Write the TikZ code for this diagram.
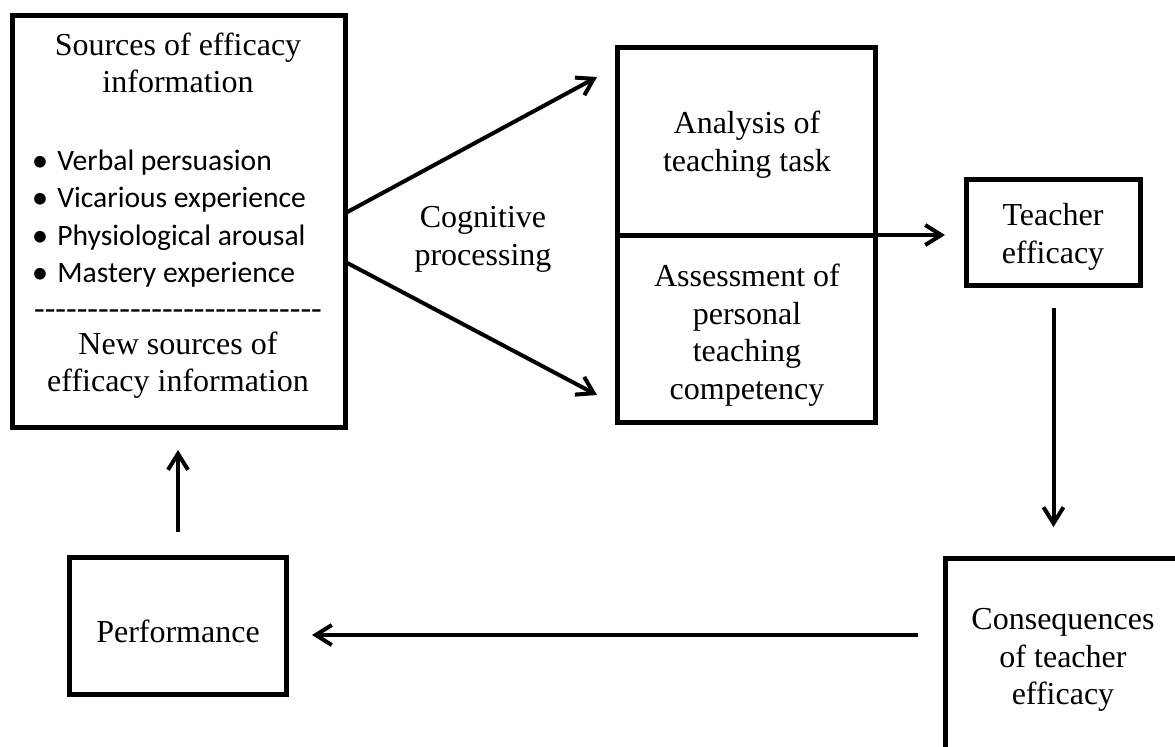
\documentclass[tikz,border=0pt]{standalone}
\usepackage{fontspec}
\setmainfont{Liberation Serif}
\newfontfamily\calib{Carlito}
\usetikzlibrary{arrows.meta}
\newcommand\dsh{-\kern0pt}
\newcommand\bul{\makebox[11.5pt][l]{\hspace{-1.3pt}\fontsize{16.5}{16.5}\selectfont\raisebox{-0.3pt}{•}}}
\tikzset{
  box/.style={draw, line width=2.5pt, inner sep=0pt, outer sep=0pt},
  lbl/.style={align=center, font=\fontsize{16}{18.75}\selectfont, inner sep=0pt},
  blt/.style={anchor=west, font=\calib\fontsize{14.8}{18.5}\selectfont, inner sep=0pt},
  arr/.style={line width=2pt, -{Straight Barb[length=8pt,width=10pt]}},
}
\begin{document}
\begin{tikzpicture}[x=0.5pt,y=-0.5pt]
\useasboundingbox (0,0) rectangle (1175,746);
\clip (0,0) rectangle (1175,746);
\fill[white] (0,0) rectangle (1175,746);
% boxes
\node[box, minimum width=166.5pt, minimum height=206pt] (src) at (179,221.5) {};
\node[box, minimum width=129pt, minimum height=187.5pt] (mid) at (746.5,235) {};
\node[box, minimum width=87pt, minimum height=53pt] (teach) at (1053.5,232.5) {};
\node[box, minimum width=108.5pt, minimum height=68.5pt] (perf) at (178,626) {};
\node[box, minimum width=122.25pt, minimum height=100.75pt] (cons) at (1067.75,659.25) {};
% texts
\node[lbl] (srct) at (178,63) {Sources of efficacy\\information};
\node[blt] (b1) at (34,163) {\bul Verbal persuasion};
\node[blt] (b2) at (34,200) {\bul Vicarious experience};
\node[blt] (b3) at (34,238) {\bul Physiological arousal};
\node[blt] (b4) at (34,275) {\bul Mastery experience};
\node[lbl] (dash) at (178,314) {\dsh\dsh\dsh\dsh\dsh\dsh\dsh\dsh\dsh\dsh\dsh\dsh\dsh\dsh\dsh\dsh\dsh\dsh\dsh\dsh\dsh\dsh\dsh\dsh\dsh\dsh\dsh};
\node[lbl] (newt) at (178,365) {New sources of\\efficacy information};
\node[lbl] (anat) at (747,144.5) {Analysis of\\teaching task};
\node[lbl] (asst) at (747,335) {Assessment of\\personal\\teaching\\competency};
\node[lbl] (cogt) at (483,239.5) {Cognitive\\processing};
\node[lbl] (teacht) at (1053,237) {Teacher\\efficacy};
\node[lbl] (const) at (1063,660) {Consequences\\of teacher\\efficacy};
\node[lbl] (perft) at (178,631) {Performance};
% divider
\draw[line width=2.5pt] (mid.west) -- (mid.east);
% connectors
\draw[arr] ([yshift=4.25pt]src.east) -- ([xshift=-10.25pt,yshift=79pt]mid.west);
\draw[arr] ([yshift=-20.25pt]src.east) -- ([xshift=-10.25pt,yshift=-80pt]mid.west);
\draw[arr, shorten >=10.75pt] (mid.east) -- (teach.west |- mid.east);
\draw[arr, shorten <=11.25pt, shorten >=15.75pt] (teach.south) -- (teach.south |- cons.north);
\draw[arr, shorten <=13.75pt, shorten >=12.75pt] ([yshift=-4.5pt]cons.west |- perf.east) -- ([yshift=-4.5pt]perf.east);
\draw[arr, shorten <=12.75pt, shorten >=11.25pt] (perf.north) -- (perf.north |- src.south);
\end{tikzpicture}
\end{document}
